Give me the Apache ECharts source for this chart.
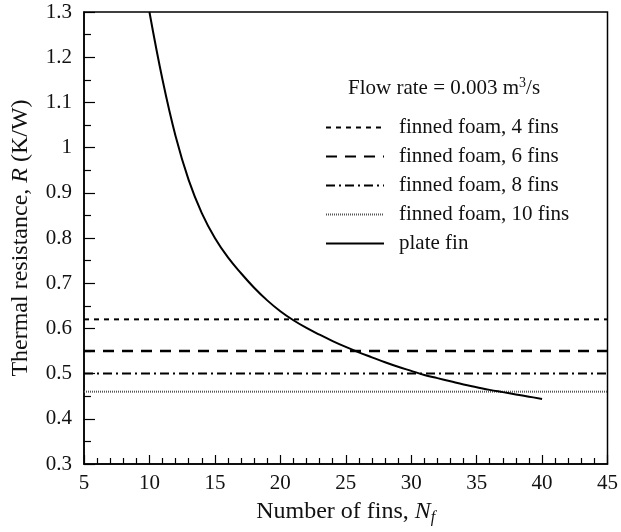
<!DOCTYPE html>
<html>
<head>
<meta charset="utf-8">
<script src="https://cdn.jsdelivr.net/npm/echarts@6/dist/echarts.min.js"></script>
<style>
  html, body { margin: 0; padding: 0; background: #fff; }
  #main { width: 621px; height: 532px; }
</style>
</head>
<body>
<div id="main"></div>
<script>
// plate fin curve
const plateN = [10, 11, 12, 13, 14, 15, 16, 17, 18, 19, 20, 21, 22, 23, 24, 25,
  26, 27, 28, 29, 30, 31, 32, 33, 34, 35, 36, 37, 38, 39, 40];
const plateR = [1.30, 1.15, 1.025, 0.928, 0.855, 0.80, 0.757, 0.722, 0.69, 0.662, 0.638,
  0.618, 0.601, 0.586, 0.572, 0.559, 0.547, 0.536, 0.525, 0.515, 0.506, 0.497, 0.49,
  0.483, 0.476, 0.47, 0.464, 0.459, 0.454, 0.449, 0.444];

// finned foam levels (constant across N)
const foamNames = ['finned foam, 4 fins', 'finned foam, 6 fins', 'finned foam, 8 fins', 'finned foam, 10 fins'];
const foamR = [0.62, 0.55, 0.50, 0.46];
const xRange = [5, 45];

const foamStyles = [
  { width: 2, type: [5, 5] },
  { width: 2.5, type: [11, 8] },
  { width: 2, type: [9, 4, 2, 4] },
  { width: 2, type: [1, 1], color: '#555' }
];

const font = 'Liberation Serif';
const myChart = echarts.init(document.getElementById('main'));

const series = foamNames.map(function (name, i) {
  return {
    name: name,
    type: 'line',
    symbol: 'none',
    silent: true,
    color: '#000',
    data: xRange.map(function (x) { return [x, foamR[i]]; }),
    lineStyle: {
      color: foamStyles[i].color || '#000',
      width: foamStyles[i].width,
      type: foamStyles[i].type
    }
  };
});
series.push({
  name: 'plate fin',
  type: 'line',
  symbol: 'none',
  color: '#000',
  smooth: 0.4,
  data: plateN.map(function (n, i) { return [n, plateR[i]]; }),
  lineStyle: { color: '#000', width: 2 }
});

const option = {
  animation: false,
  textStyle: { fontFamily: font },
  grid: {
    left: 84, right: 9, top: 12, bottom: 68,
    show: true, borderColor: '#000', borderWidth: 1.5
  },
  title: {
    text: 'Flow rate = 0.003 m{sup|3}/s',
    left: 343, top: 71,
    textStyle: {
      fontFamily: font, fontSize: 21, fontWeight: 'normal', color: '#111',
      rich: {
        sup: { fontFamily: font, fontSize: 14, color: '#111', verticalAlign: 'top', padding: [0, 0, 11, 0] }
      }
    }
  },
  legend: {
    orient: 'vertical',
    left: 320, top: 112,
    itemWidth: 58, itemHeight: 14, itemGap: 8,
    itemStyle: { opacity: 0 },
    textStyle: { fontFamily: font, fontSize: 21, lineHeight: 21, color: '#111', padding: [0, 0, 0, 10] },
    data: foamNames.concat(['plate fin'])
  },
  xAxis: {
    type: 'value', min: 5, max: 45, interval: 5,
    name: 'Number of fins, {i|N}{sub|f}',
    nameLocation: 'middle', nameGap: 34,
    nameTextStyle: {
      fontFamily: font, fontSize: 24, color: '#111',
      rich: {
        i: { fontFamily: font, fontSize: 24, fontStyle: 'italic', color: '#111' },
        sub: { fontFamily: font, fontSize: 16, fontStyle: 'italic', color: '#111', verticalAlign: 'bottom', padding: [12, 0, 0, 0] }
      }
    },
    axisLine: { lineStyle: { color: '#000', width: 1.5 } },
    axisTick: { inside: true, length: 9, lineStyle: { color: '#000', width: 1.2 } },
    minorTick: { show: true, splitNumber: 5, length: 6, lineStyle: { color: '#000', width: 1.2 } },
    axisLabel: { fontFamily: font, fontSize: 21, color: '#111', margin: 9 },
    splitLine: { show: false }
  },
  yAxis: {
    type: 'value', min: 0.3, max: 1.3, interval: 0.1,
    name: 'Thermal resistance, {i|R} (K/W)',
    nameLocation: 'middle', nameGap: 51, nameRotate: 90,
    nameTextStyle: {
      fontFamily: font, fontSize: 24, color: '#111',
      rich: {
        i: { fontFamily: font, fontSize: 24, fontStyle: 'italic', color: '#111' }
      }
    },
    axisLine: { lineStyle: { color: '#000', width: 1.5 } },
    axisTick: { inside: true, length: 11, lineStyle: { color: '#000', width: 1.2 } },
    minorTick: { show: true, splitNumber: 2, length: 7, lineStyle: { color: '#000', width: 1.2 } },
    axisLabel: {
      fontFamily: font, fontSize: 21, color: '#111', margin: 12,
      formatter: function (v) { return +v.toFixed(1) + ''; }
    },
    splitLine: { show: false }
  },
  series: series
};

myChart.setOption(option);
</script>
</body>
</html>
